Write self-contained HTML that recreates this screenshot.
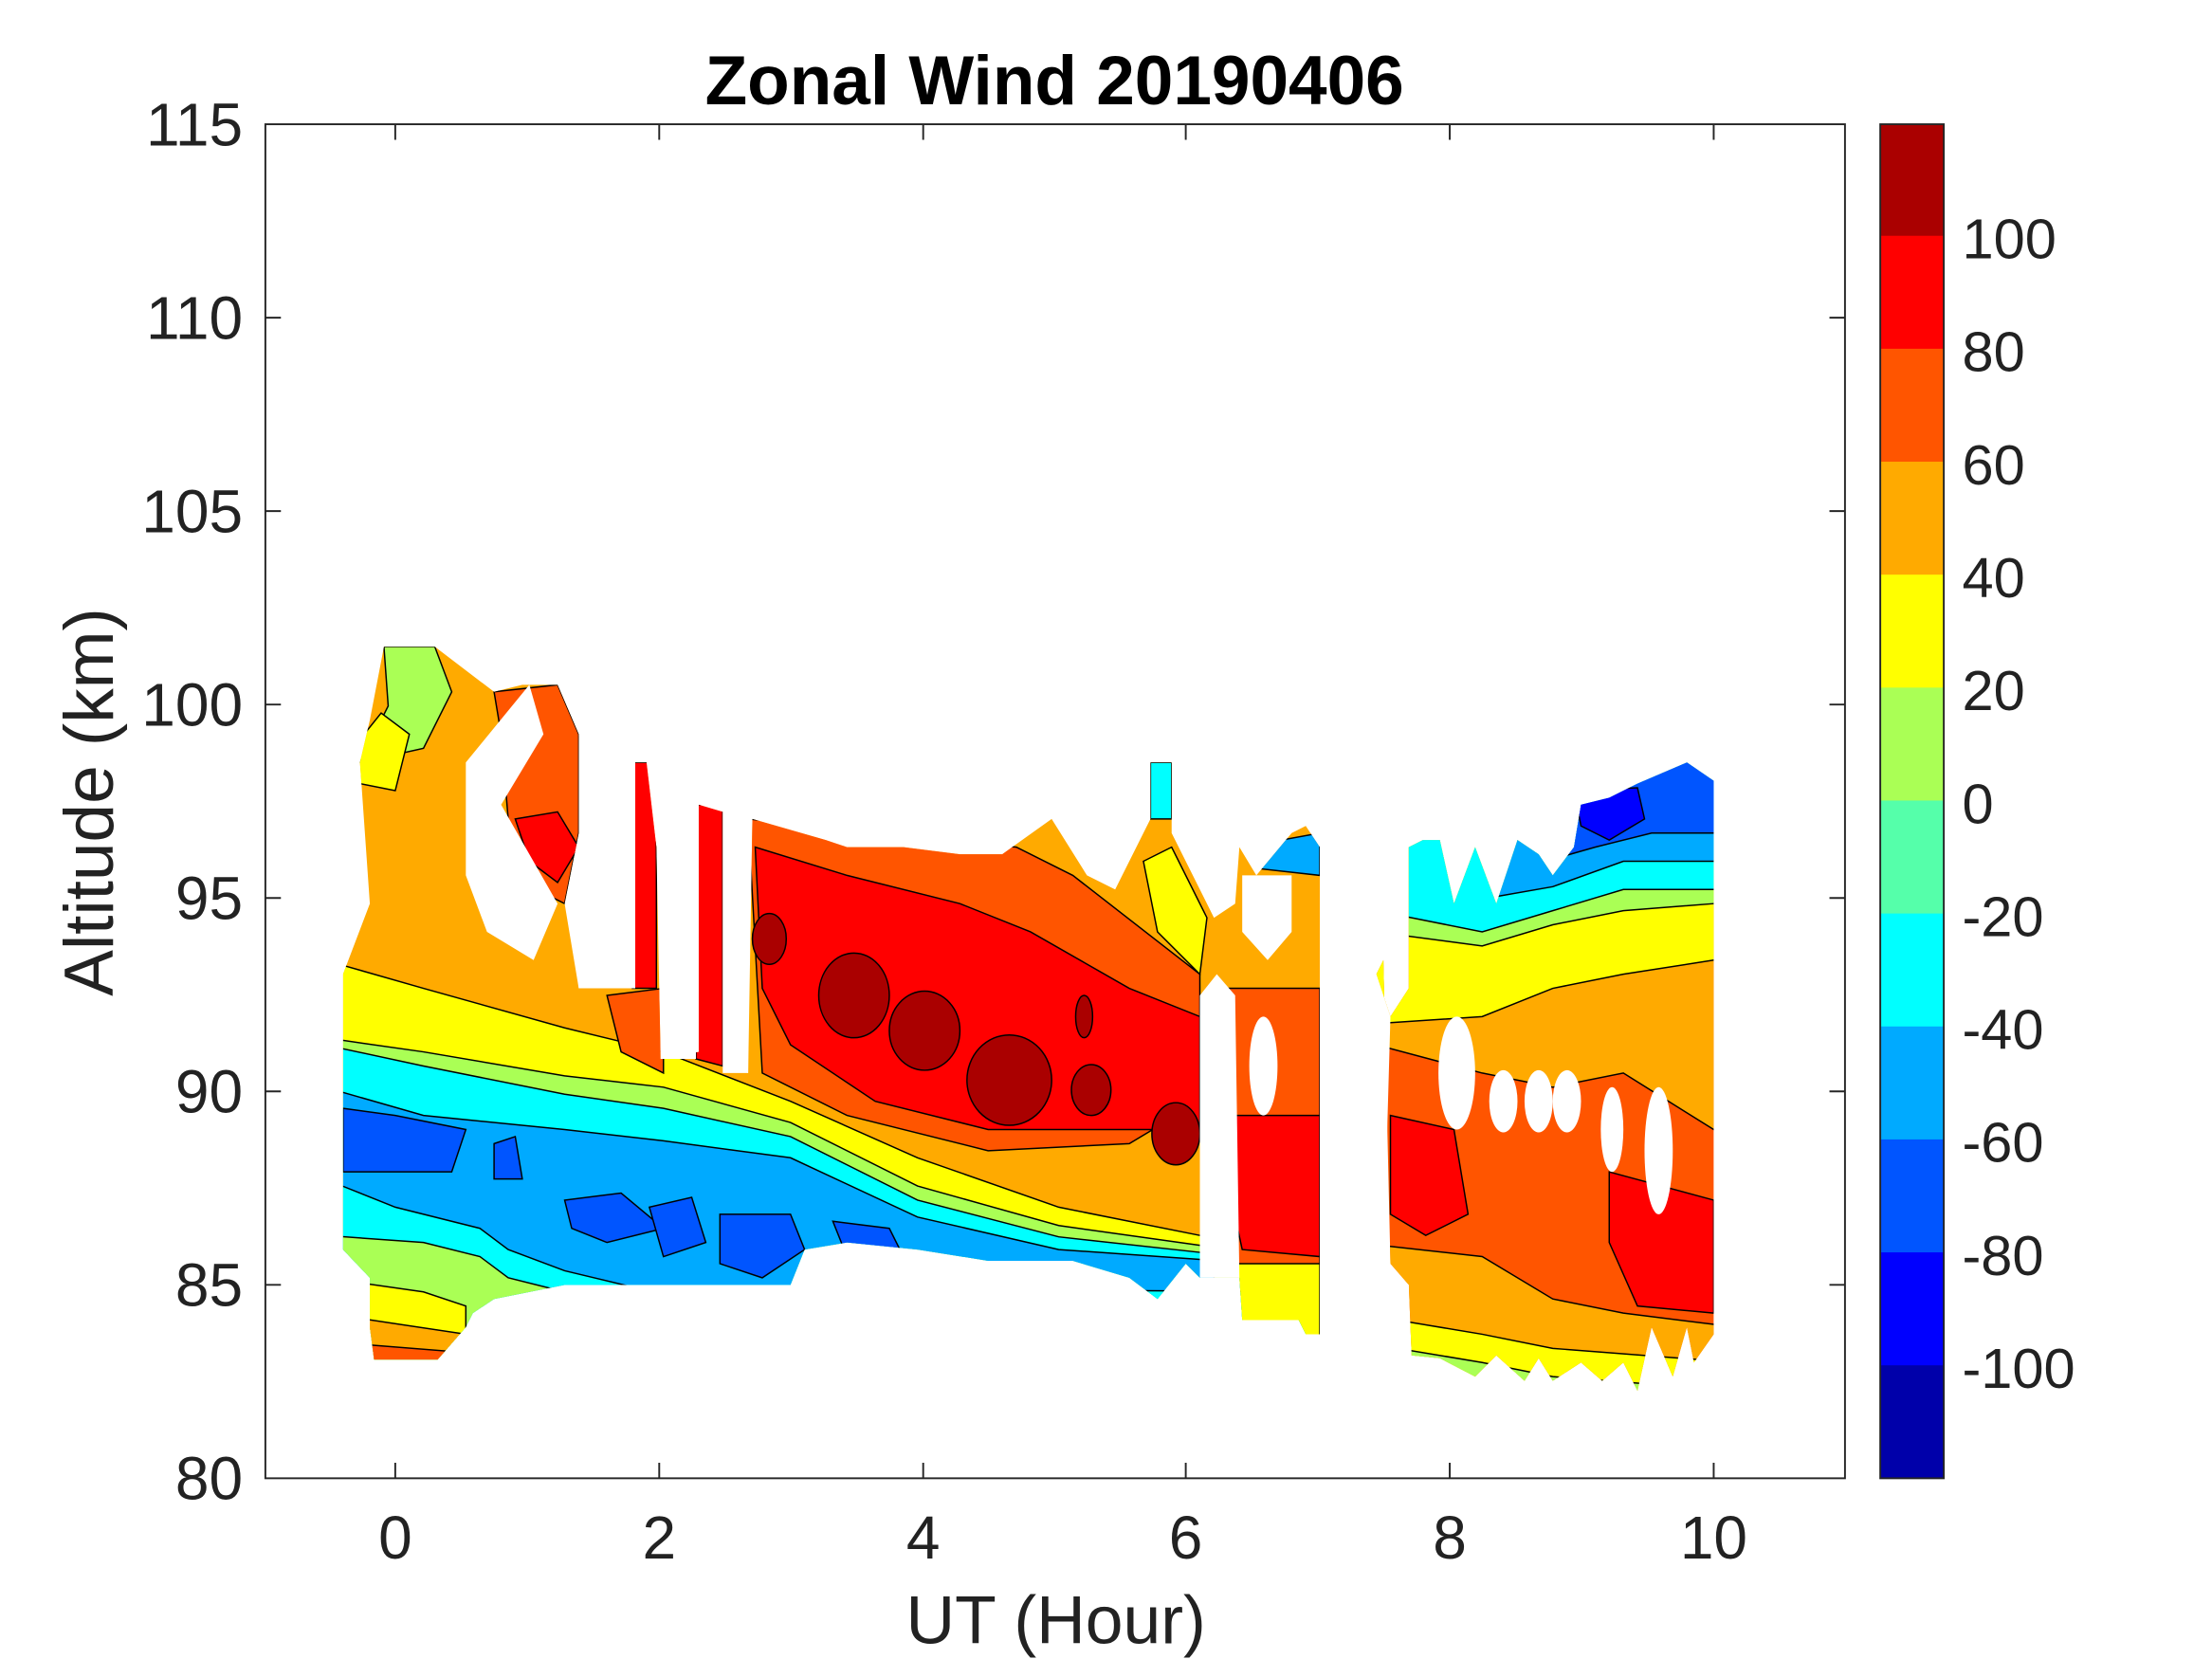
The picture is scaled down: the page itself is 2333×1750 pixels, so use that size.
<!DOCTYPE html>
<html><head><meta charset="utf-8"><style>
html,body{margin:0;padding:0;background:#fff;}
svg{display:block;}
text{font-family:"Liberation Sans",sans-serif;fill:#222;}
</style></head><body>
<svg width="2333" height="1750" viewBox="0 0 1567 1175" preserveAspectRatio="none" xmlns="http://www.w3.org/2000/svg">
<defs>
<clipPath id="cL"><polygon points="243,690 262,640 255,540 262,510 272,458 308,458 350,490 370,485 395,485 410,520 410,590 400,640 410,700 450,700 450,540 458,540 465,600 468,750 495,745 495,570 512,575 512,755 530,760 533,580 585,595 600,600 640,600 680,605 710,605 745,580 770,620 790,630 815,580 815,540 830,540 830,590 860,650 875,640 878,600 890,620 915,590 925,585 935,600 935,945 925,945 920,935 900,935 880,935 878,905 850,905 840,895 820,920 800,905 760,893 700,893 650,885 600,880 570,885 560,910 500,910 400,910 350,920 335,930 330,940 310,963 265,963 262,940 262,905 243,885"/></clipPath>
<clipPath id="cR"><polygon points="998,600 1008,595 1020,595 1030,640 1045,600 1060,640 1075,595 1090,605 1100,620 1115,600 1120,570 1140,565 1160,555 1195,540 1214,553 1214,945 1200,965 1195,940 1185,975 1170,940 1160,985 1150,965 1135,978 1120,965 1100,978 1090,962 1080,978 1060,960 1045,975 1020,962 1000,960 998,910 985,895 980,680 975,690 985,720 998,700"/></clipPath>
</defs>
<rect x="0" y="0" width="1567" height="1175" fill="#fff"/>
<g clip-path="url(#cL)" stroke="#000" stroke-width="1">
<rect x="230" y="440" width="720" height="540" fill="#ffaa00" stroke="none"/>
<polygon fill="#ffff00" points="230,680 300,700 400,728 470,745 560,780 650,820 750,855 850,875 950,885 950,1000 230,1000"/>
<polygon fill="#aaff55" points="230,735 300,745 400,762 470,770 560,795 650,840 750,868 850,882 950,890 950,1000 230,1000"/>
<polygon fill="#00ffff" points="230,740 300,755 400,775 470,785 560,805 650,850 750,876 850,887 950,893 950,1000 230,1000"/>
<polygon fill="#00aaff" points="230,770 300,790 400,800 470,808 560,820 650,862 750,885 850,892 950,896 950,1000 230,1000"/>
<polygon fill="#00ffff" points="230,835 280,855 340,870 360,885 400,900 450,912 950,915 950,1000 230,1000"/>
<polygon fill="#aaff55" points="230,875 300,880 340,890 360,905 400,915 400,1000 230,1000"/>
<polygon fill="#ffff00" points="230,905 300,915 330,925 330,1000 230,1000"/>
<polygon fill="#ffaa00" points="230,930 330,945 330,1000 230,1000"/>
<polygon fill="#ff5500" points="230,950 330,958 330,1000 230,1000"/>
<polygon fill="#0055ff" points="243,785 280,790 330,800 320,830 280,830 243,830"/>
<polygon fill="#0055ff" points="400,850 440,845 470,870 430,880 405,870"/>
<polygon fill="#0055ff" points="460,855 490,848 500,880 470,890"/>
<polygon fill="#0055ff" points="510,860 560,860 570,885 540,905 510,895"/>
<polygon fill="#0055ff" points="590,865 630,870 640,890 600,890"/>
<polygon fill="#0055ff" points="350,810 365,805 370,835 350,835"/>
<polygon fill="#aaff55" points="255,540 275,500 272,458 308,458 320,490 300,530"/>
<polygon fill="#ffff00" points="250,530 270,505 290,520 280,560 255,555"/>
<polygon fill="#ff5500" points="350,490 395,485 410,520 410,590 400,640 380,630 360,580 355,520"/>
<polygon fill="#ff0000" points="365,580 395,575 410,600 395,625 375,610"/>
<polygon fill="#ff5500" points="430,705 470,700 470,760 440,745"/>
<polygon fill="#ff5500" points="530,580 720,600 760,620 850,690 850,780 800,810 700,815 600,790 540,760"/>
<polygon fill="#ff0000" points="535,600 600,620 680,640 730,660 800,700 850,720 850,800 780,800 700,800 620,780 560,740 540,700"/>
<polygon fill="#ff0000" points="448,540 465,540 465,700 448,700"/>
<polygon fill="#ff0000" points="493,570 512,570 512,755 493,750"/>
<ellipse fill="#aa0000" cx="545" cy="665" rx="12" ry="18"/>
<ellipse fill="#aa0000" cx="605" cy="705" rx="25" ry="30"/>
<ellipse fill="#aa0000" cx="655" cy="730" rx="25" ry="28"/>
<ellipse fill="#aa0000" cx="715" cy="765" rx="30" ry="32"/>
<ellipse fill="#aa0000" cx="773" cy="772" rx="14" ry="18"/>
<ellipse fill="#aa0000" cx="833" cy="803" rx="17" ry="22"/>
<ellipse fill="#aa0000" cx="768" cy="720" rx="6" ry="15"/>
<polygon fill="#ffff00" points="810,610 830,600 855,650 850,690 820,660"/>
<polygon fill="#ff5500" points="865,700 935,700 935,900 865,900"/>
<polygon fill="#ff0000" points="868,790 935,790 935,890 880,885 868,830"/>
<polygon fill="#ffff00" points="860,895 935,895 935,950 860,950"/>
<polygon fill="#00ffff" points="815,540 830,540 830,580 815,580"/>
<polygon fill="#00aaff" points="880,600 935,590 935,620 890,615"/>
</g>
<g clip-path="url(#cR)" stroke="#000" stroke-width="1">
<rect x="960" y="520" width="270" height="480" fill="#ff5500" stroke="none"/>
<polygon fill="#ffaa00" points="960,500 1230,500 1230,800 1214,800 1150,760 1100,770 1050,760 975,740 960,740"/>
<polygon fill="#ffff00" points="960,500 1230,500 1230,680 1214,680 1150,690 1100,700 1050,720 975,725 960,725"/>
<polygon fill="#aaff55" points="960,500 1230,500 1230,640 1214,640 1150,645 1100,655 1050,670 975,660 960,660"/>
<polygon fill="#00ffff" points="960,500 1230,500 1230,630 1214,630 1150,630 1100,645 1050,660 975,645 960,645"/>
<polygon fill="#00aaff" points="1045,500 1230,500 1230,610 1214,610 1150,610 1100,628 1060,635"/>
<polygon fill="#0055ff" points="1090,500 1230,500 1230,590 1214,590 1170,590 1130,600 1095,610"/>
<polygon fill="#0000ff" points="1115,560 1160,558 1165,580 1140,595 1120,585"/>
<polygon fill="#ff0000" points="985,790 1030,800 1040,860 1010,875 985,860"/>
<polygon fill="#ff0000" points="1140,830 1214,850 1214,930 1160,925 1140,880"/>
<polygon fill="#ffaa00" points="960,880 1050,890 1100,920 1150,930 1230,940 1230,1000 960,1000"/>
<polygon fill="#ffff00" points="960,930 1050,945 1100,955 1230,965 1230,1000 960,1000"/>
<polygon fill="#aaff55" points="960,950 1050,965 1100,975 1230,985 1230,1000 960,1000"/>
</g>
<g fill="#fff">
<polygon points="330,540 375,485 385,520 355,570 395,640 378,680 345,660 330,620"/>
<polygon points="410,520 450,540 450,700 410,700 405,640 412,590"/>
<polygon points="468,570 493,570 493,750 468,750"/>
<polygon points="512,575 530,575 530,760 512,760"/>
<polygon points="850,705 862,690 875,705 878,905 850,905"/>
<ellipse cx="895" cy="755" rx="10" ry="35"/>
<polygon points="935,560 975,560 975,690 985,720 980,895 998,910 998,980 935,980"/>
<polygon points="880,620 915,620 915,660 898,680 880,660"/>
<ellipse cx="1032" cy="760" rx="13" ry="40"/>
<ellipse cx="1065" cy="780" rx="10" ry="22"/>
<ellipse cx="1090" cy="780" rx="10" ry="22"/>
<ellipse cx="1110" cy="780" rx="10" ry="22"/>
<ellipse cx="1142" cy="800" rx="8" ry="30"/>
<ellipse cx="1175" cy="815" rx="10" ry="45"/>
</g>
<rect x="188" y="88" width="1119" height="959" fill="none" stroke="#262626" stroke-width="1.3"/>
<g stroke="#262626" stroke-width="1.3">
<path d="M280,1047v-11M467,1047v-11M654,1047v-11M840,1047v-11M1027,1047v-11M1214,1047v-11M280,88v11M467,88v11M654,88v11M840,88v11M1027,88v11M1214,88v11"/>
<path d="M188,910h11M188,773h11M188,636h11M188,499h11M188,362h11M188,225h11M1307,910h-11M1307,773h-11M1307,636h-11M1307,499h-11M1307,362h-11M1307,225h-11"/>
</g>
<g font-size="43" text-anchor="end">
<text x="172" y="1062">80</text><text x="172" y="925">85</text><text x="172" y="788">90</text><text x="172" y="651">95</text><text x="172" y="514">100</text><text x="172" y="377">105</text><text x="172" y="240">110</text><text x="172" y="103">115</text>
</g>
<g font-size="43" text-anchor="middle">
<text x="280" y="1104">0</text><text x="467" y="1104">2</text><text x="654" y="1104">4</text><text x="840" y="1104">6</text><text x="1027" y="1104">8</text><text x="1214" y="1104">10</text>
</g>
<text x="748" y="1164" font-size="48" text-anchor="middle">UT (Hour)</text>
<text transform="translate(80,568) rotate(-90)" font-size="49" text-anchor="middle">Altitude (km)</text>
<text x="747" y="74" font-size="49" font-weight="bold" text-anchor="middle" style="fill:#000">Zonal Wind 20190406</text>
<rect x="1332" y="88" width="45" height="80" fill="#aa0000"/>
<rect x="1332" y="167" width="45" height="81" fill="#ff0000"/>
<rect x="1332" y="247" width="45" height="81" fill="#ff5500"/>
<rect x="1332" y="327" width="45" height="81" fill="#ffaa00"/>
<rect x="1332" y="407" width="45" height="81" fill="#ffff00"/>
<rect x="1332" y="487" width="45" height="81" fill="#aaff55"/>
<rect x="1332" y="567" width="45" height="81" fill="#55ffaa"/>
<rect x="1332" y="647" width="45" height="81" fill="#00ffff"/>
<rect x="1332" y="727" width="45" height="81" fill="#00aaff"/>
<rect x="1332" y="807" width="45" height="81" fill="#0055ff"/>
<rect x="1332" y="887" width="45" height="81" fill="#0000ff"/>
<rect x="1332" y="967" width="45" height="80" fill="#0000aa"/>
<rect x="1332" y="88" width="45" height="959" fill="none" stroke="#262626" stroke-width="1.3"/>
<g font-size="40">
<text x="1390" y="183">100</text><text x="1390" y="263">80</text><text x="1390" y="343">60</text><text x="1390" y="423">40</text><text x="1390" y="503">20</text><text x="1390" y="583">0</text><text x="1390" y="663">-20</text><text x="1390" y="743">-40</text><text x="1390" y="823">-60</text><text x="1390" y="903">-80</text><text x="1390" y="983">-100</text>
</g>
</svg>
</body></html>
